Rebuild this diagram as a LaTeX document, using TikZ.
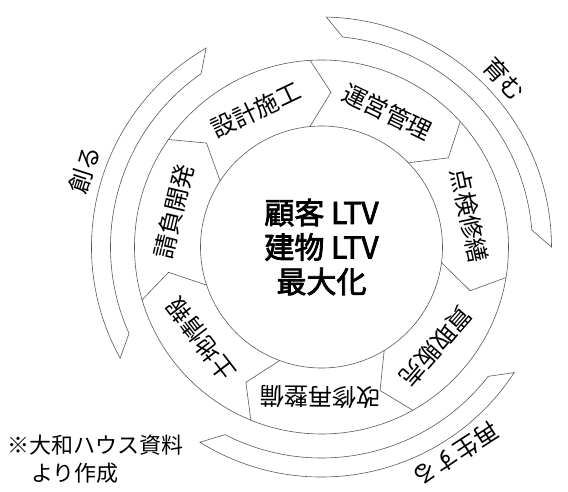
\documentclass[tikz,border=0pt]{standalone}
\usepackage{fontspec}
\setmainfont{Noto Sans CJK JP}
\newfontfamily\corefont[FakeBold=2.5]{Noto Sans CJK JP}
\tikzset{
  ring/.style={draw=black!65, line width=0.6pt},
  stage/.style={font=\fontsize{24}{24}\selectfont, inner sep=0pt},
  phase/.style={font=\fontsize{24}{24}\selectfont, inner sep=0pt},
}
\begin{document}
\begin{tikzpicture}[x=1pt, y=1pt]
\useasboundingbox (-321.5, -245) rectangle (246.5, 247);
% core and ring
\draw[ring] (0, 0) circle (121);
\draw[ring] (0, 0) circle (187);
\node[align=center, font=\corefont\fontsize{30}{34.5}\selectfont] (core) at (0, 0) {顧客 LTV\\建物 LTV\\最大化};
% chevron borders
\draw[ring] (95.5:121) -- (86.5:155) -- (93.5:187);
\draw[ring] (146.9:121) -- (137.9:155) -- (144.9:187);
\draw[ring] (198.4:121) -- (189.4:155) -- (196.4:187);
\draw[ring] (249.8:121) -- (240.8:155) -- (247.8:187);
\draw[ring] (301.2:121) -- (292.2:155) -- (299.2:187);
\draw[ring] (352.6:121) -- (343.6:155) -- (350.6:187);
\draw[ring] (44.1:121) -- (35.1:155) -- (42.1:187);
% stages
\node[stage, rotate=25.5] (design) at (115.5:152) {設計施工};
\node[stage, rotate=76.5] (contract) at (166.5:152) {請負開発};
\node[stage, rotate=127.5] (land) at (217.5:152) {土地情報};
\node[stage, rotate=179.5] (renovate) at (269.5:150) {改修再整備};
\node[stage, rotate=229] (resale) at (319:152) {買取販売};
\node[stage, rotate=-78] (repair) at (12:151) {点検修繕};
\node[stage, rotate=-26] (operate) at (64:150) {運営管理};
% outer bands
\draw[ring] (120.1:230) arc[start angle=120.1, end angle=208.9, radius=230] -- (204.2:211) arc[start angle=204.2, end angle=124.8, radius=211] -- cycle;
\draw[ring] (0:230) arc[start angle=0, end angle=88.8, radius=230] -- (84.2:211) arc[start angle=84.2, end angle=4.6, radius=211] -- cycle;
\draw[ring] (238.1:230) arc[start angle=238.1, end angle=326.9, radius=230] -- (322.2:211) arc[start angle=322.2, end angle=242.8, radius=211] -- cycle;
\node[phase, rotate=72] (create) at (162:249) {創る};
\node[phase, rotate=-47.5] (nurture) at (42.5:248) {育む};
\node[phase, rotate=213] (renew) at (303:247) {再生する};
% source
\node[font=\fontsize{22}{28}\selectfont, align=left, anchor=north west, inner sep=0pt] (source) at (-314.5, -188) {※大和ハウス資料\\\hspace*{1.1em}より作成};
\end{tikzpicture}
\end{document}
